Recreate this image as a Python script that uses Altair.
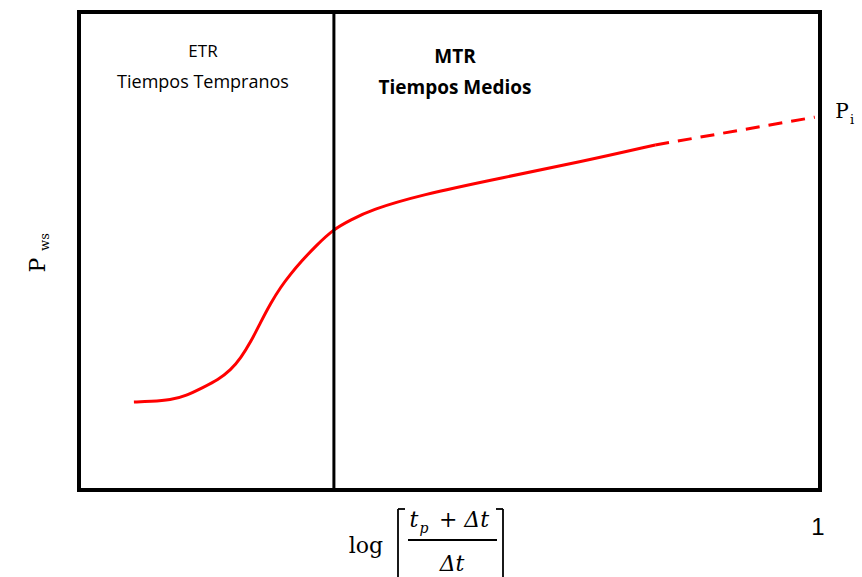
import altair as alt
import pandas as pd

# Curve (solid part), arbitrary units 0-100
solid_x = [7.41, 9.70, 12.40, 14.42, 16.85, 18.73, 20.49, 21.83, 23.18, 24.53, 25.88, 27.22,
           28.57, 29.92, 31.94, 34.37, 36.66, 39.35, 46.09, 56.87, 67.65, 77.76]
solid_y = [18.41, 18.51, 18.83, 19.67, 21.55, 23.01, 25.10, 27.62, 30.96, 35.15, 39.12, 42.47,
           45.19, 47.70, 51.05, 54.60, 56.49, 58.58, 61.72, 65.27, 68.62, 72.18]
# Extrapolated (dashed) part
dash_x = [77.76, 99.3]
dash_y = [72.18, 78.0]
# Boundary between ETR and MTR
boundary_x = [34.4]

solid = pd.DataFrame({"x": solid_x, "y": solid_y})
dashed = pd.DataFrame({"x": dash_x, "y": dash_y})
bound = pd.DataFrame({"x": boundary_x})

xs = alt.Scale(domain=[0, 100], nice=False, zero=False)
ys = alt.Scale(domain=[0, 100], nice=False, zero=False)

solid_line = alt.Chart(solid).mark_line(color="#ff0000", strokeWidth=3, interpolate="basis").encode(
    x=alt.X("x:Q", scale=xs, axis=None), y=alt.Y("y:Q", scale=ys, axis=None))
dash_line = alt.Chart(dashed).mark_line(color="#ff0000", strokeWidth=3, strokeDash=[14, 9]).encode(
    x=alt.X("x:Q", scale=xs, axis=None), y=alt.Y("y:Q", scale=ys, axis=None))
vline = alt.Chart(bound).mark_rule(color="black", strokeWidth=3).encode(
    x=alt.X("x:Q", scale=xs, axis=None))

one = pd.DataFrame({"a": [0]})

def txt(text, x, y, size=16, font="Open Sans", weight="normal", style="normal", angle=0, align="center"):
    return alt.Chart(one).mark_text(text=text, fontSize=size, font=font, fontWeight=weight,
                                    fontStyle=style, angle=angle, align=align, baseline="middle",
                                    color="black").encode(x=alt.value(x), y=alt.value(y))

def rule(x1, y1, x2, y2, w=1.8):
    return alt.Chart(one).mark_rule(color="black", strokeWidth=w).encode(
        x=alt.value(x1), x2=alt.value(x2), y=alt.value(y1), y2=alt.value(y2))

L, T = 79, 12
annots = [
    txt("ETR", 203 - L, 52 - T, size=17),
    txt("Tiempos Tempranos", 203 - L, 83 - T, size=18),
    txt("MTR", 455 - L, 57 - T, size=19, weight="bold"),
    txt("Tiempos Medios", 455 - L, 88 - T, size=19, weight="bold"),
    txt("P", 842 - L, 112 - T, size=20, font="DejaVu Serif"),
    txt("i", 852 - L, 120 - T, size=13, font="DejaVu Serif"),
    txt("1", 818 - L, 528 - T, size=24, font="Liberation Sans"),
    txt("P", 38 - L, 265 - T, size=22, font="DejaVu Serif", angle=270),
    txt("ws", 45 - L, 242 - T, size=13, font="DejaVu Serif", angle=270),
    txt("log", 366 - L, 546 - T, size=22, font="DejaVu Serif"),
    txt("t", 414 - L, 520 - T, size=22, font="DejaVu Serif", style="italic"),
    txt("p", 424 - L, 529 - T, size=14, font="DejaVu Serif", style="italic"),
    txt("+ Δt", 464 - L, 520 - T, size=22, font="DejaVu Serif", style="italic"),
    txt("Δt", 452 - L, 564 - T, size=22, font="DejaVu Serif", style="italic"),
    rule(408 - L, 540 - T, 497 - L, 540 - T),
    rule(398 - L, 509 - T, 398 - L, 580 - T),
    rule(398 - L, 509 - T, 405 - L, 509 - T),
    rule(503 - L, 509 - T, 503 - L, 580 - T),
    rule(496 - L, 509 - T, 503 - L, 509 - T),
]

chart = alt.layer(solid_line, dash_line, vline, *annots).properties(
    width=741, height=478,
    padding={"left": L, "top": T, "right": 42, "bottom": 87},
    autosize=alt.AutoSizeParams(type="none"),
    background="white",
).configure_view(stroke="black", strokeWidth=4)

chart.save("out.html", embed_options={"renderer": "svg", "actions": False})
